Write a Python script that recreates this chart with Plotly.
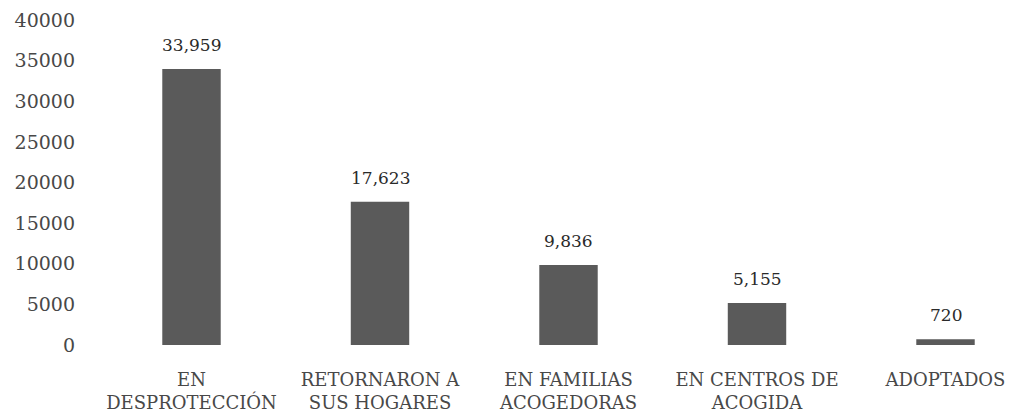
import plotly.graph_objects as go

categories = ["EN<br>DESPROTECCIÓN", "RETORNARON A<br>SUS HOGARES", "EN FAMILIAS<br>ACOGEDORAS",
              "EN CENTROS DE<br>ACOGIDA", "ADOPTADOS"]
values = [33959, 17623, 9836, 5155, 720]
value_labels = ["33,959", "17,623", "9,836", "5,155", "720"]
y_ticks = [0, 5000, 10000, 15000, 20000, 25000, 30000, 35000, 40000]

FONT = "DejaVu Serif"

fig = go.Figure()
fig.add_trace(go.Bar(
    x=list(range(len(categories))), y=values, width=0.31,
    marker=dict(color="#5a5a5a", line=dict(width=0)),
    hoverinfo="skip",
))

for i, (v, t) in enumerate(zip(values, value_labels)):
    fig.add_annotation(x=i, y=v, text=t, showarrow=False, yanchor="bottom",
                       yshift=12, font=dict(family=FONT, size=17, color="#2a2a2a"))

# page body has an 8px default margin, so the figure is sized 8px smaller
fig.update_layout(
    width=1007, height=407,
    margin=dict(l=72, r=0, t=12, b=70),
    paper_bgcolor="white", plot_bgcolor="white",
    showlegend=False,
    font=dict(family=FONT, size=16, color="#444444"),
)
fig.update_xaxes(
    tickmode="array", tickvals=list(range(len(categories))), ticktext=categories,
    range=[-0.5915, 4.3687], showgrid=False, zeroline=False, showline=False,
    ticks="", ticklabelstandoff=22, automargin=False,
    tickfont=dict(family=FONT, size=18, color="#484848"),
)
fig.update_yaxes(
    range=[0, 40000], tickvals=y_ticks, ticktext=[str(v) for v in y_ticks],
    showgrid=False, zeroline=False, showline=False, ticks="", automargin=False,
    ticklabelstandoff=4,
    tickfont=dict(family=FONT, size=19, color="#484848"),
)

fig.write_html("out.html")
